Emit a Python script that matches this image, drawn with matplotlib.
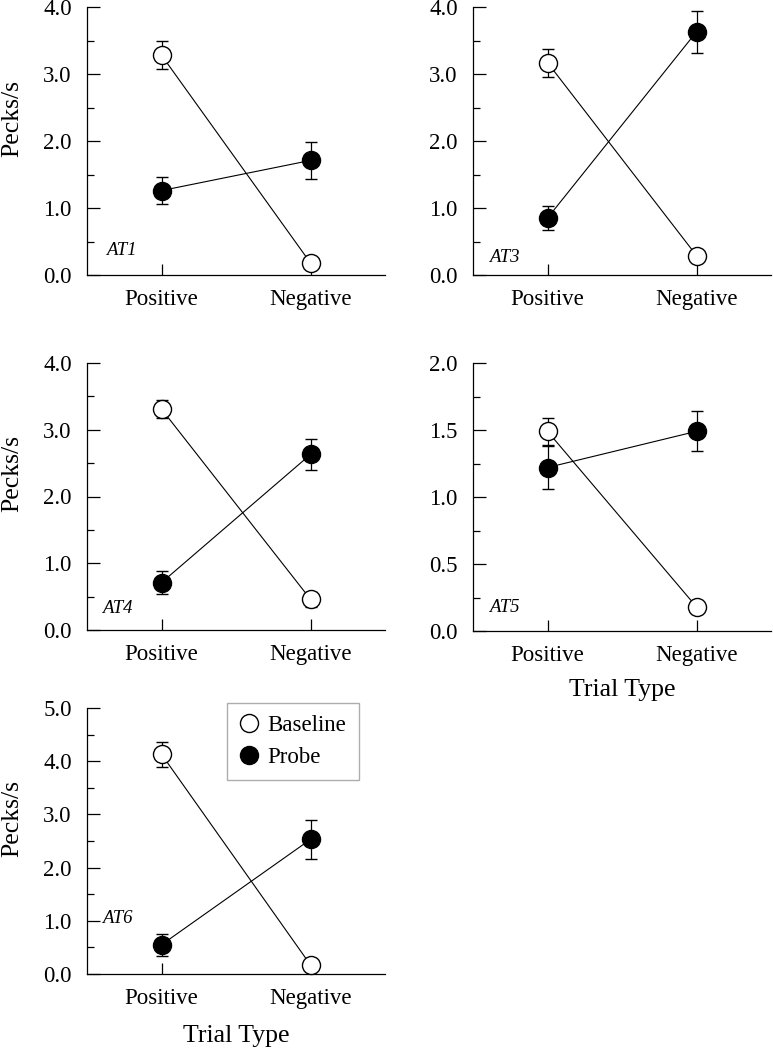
import matplotlib
matplotlib.use("Agg")
import matplotlib.pyplot as plt
from matplotlib.lines import Line2D
from matplotlib.ticker import MultipleLocator, FormatStrFormatter

plt.rcParams["font.family"] = ["Liberation Serif", "DejaVu Serif"]

categories = ["Positive", "Negative"]
subjects = ["AT1", "AT3", "AT4", "AT5", "AT6"]

baseline_mean = [[3.28, 0.18], [3.17, 0.29], [3.31, 0.46], [1.49, 0.18], [4.13, 0.17]]
baseline_err = [[0.21, 0.05], [0.21, 0.05], [0.13, 0.11], [0.10, 0.03], [0.23, 0.05]]
probe_mean = [[1.26, 1.71], [0.85, 3.63], [0.71, 2.63], [1.22, 1.49], [0.55, 2.53]]
probe_err = [[0.20, 0.28], [0.18, 0.31], [0.17, 0.23], [0.16, 0.15], [0.21, 0.36]]

y_max = [4.0, 4.0, 4.0, 2.0, 5.0]
y_step = [1.0, 1.0, 1.0, 0.5, 1.0]
label_pos = [(0.064, 0.09), (0.054, 0.067), (0.05, 0.079), (0.054, 0.086), (0.05, 0.21)]

W, H = 773, 1049
# axes rectangles in pixels: left, top, width, height
rects = [(87, 7, 298, 268), (473, 7, 298, 268),
         (87, 363, 298, 267), (473, 363, 298, 268),
         (87, 708, 298, 266)]

fig = plt.figure(figsize=(W / 100, H / 100), dpi=100)
x = list(range(len(categories)))

for i, name in enumerate(subjects):
    l, t, w, h = rects[i]
    ax = fig.add_axes([l / W, 1 - (t + h) / H, w / W, h / H])

    ax.errorbar(x, baseline_mean[i], yerr=baseline_err[i], fmt="-o", color="black",
                mfc="white", mec="black", ms=13, mew=1.0, lw=0.8, elinewidth=0.9,
                capsize=4.5, capthick=0.9, zorder=3, clip_on=False)
    ax.errorbar(x, probe_mean[i], yerr=probe_err[i], fmt="-o", color="black",
                mfc="black", mec="black", ms=13, mew=1.0, lw=0.8, elinewidth=0.9,
                capsize=4.5, capthick=0.9, zorder=3, clip_on=False)

    ax.set_xlim(-0.5, 1.5)
    ax.set_ylim(0, y_max[i])
    ax.set_xticks(x)
    ax.set_xticklabels(categories, va="baseline")
    ax.yaxis.set_major_locator(MultipleLocator(y_step[i]))
    ax.yaxis.set_minor_locator(MultipleLocator(y_step[i] / 2))
    ax.yaxis.set_major_formatter(FormatStrFormatter("%.1f"))

    for s in ("top", "right"):
        ax.spines[s].set_visible(False)
    for s in ("left", "bottom"):
        ax.spines[s].set_linewidth(0.9)

    ax.tick_params(axis="y", which="major", direction="in", length=9, width=0.9,
                   labelsize=16.5, pad=11)
    ax.tick_params(axis="y", which="minor", direction="in", length=5, width=0.9)
    ax.tick_params(axis="x", which="major", direction="in", length=8, width=0.9,
                   labelsize=16.5, pad=21.5)

    ax.text(label_pos[i][0], label_pos[i][1], name, transform=ax.transAxes,
            fontsize=13.5, style="italic", ha="left", va="center")

    if i in (0, 2, 4):
        ax.set_ylabel("Pecks/s", fontsize=18.5)
        ax.yaxis.set_label_coords(-0.215, 0.585)
    if i == 3:
        ax.set_xlabel("Trial Type", fontsize=18.5)
        ax.xaxis.set_label_coords(0.5, -0.178)
    if i == 4:
        ax.set_xlabel("Trial Type", fontsize=18.5)
        ax.xaxis.set_label_coords(0.5, -0.19)

    if i == 4:
        handles = [
            Line2D([], [], ls="none", marker="o", ms=13, mfc="white", mec="black", mew=1.0),
            Line2D([], [], ls="none", marker="o", ms=13, mfc="black", mec="black", mew=1.0),
        ]
        leg = ax.legend(handles, ["Baseline", "Probe"], loc="upper left",
                        bbox_to_anchor=(0.47, 1.02), fontsize=16.5, frameon=True,
                        fancybox=False, handlelength=0.8, handletextpad=0.4,
                        borderpad=0.55, labelspacing=0.45, borderaxespad=0)
        leg.get_frame().set_edgecolor("#999999")
        leg.get_frame().set_linewidth(1.0)

fig.savefig("out.png", dpi=100)
